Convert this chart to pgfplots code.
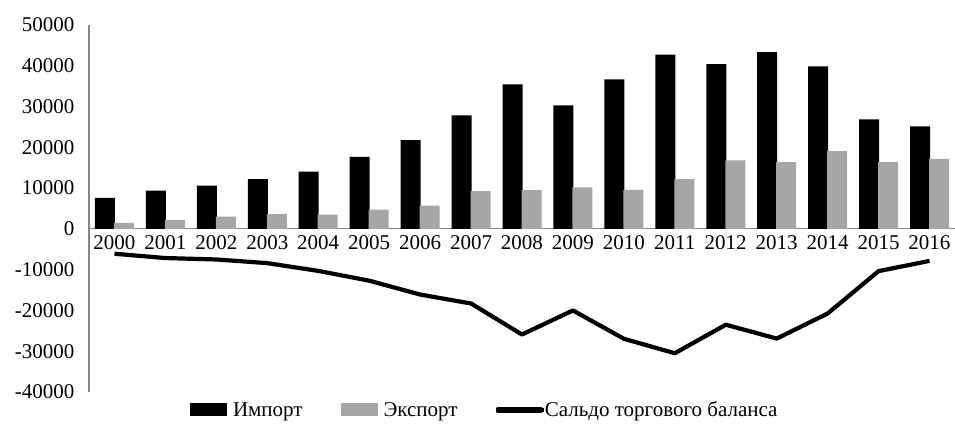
\documentclass[border=0pt]{standalone}
\usepackage{pgfplots}
\pgfplotsset{compat=1.18}
\usepackage{pgfplotstable}
\usepackage{fontspec}
\setmainfont{Liberation Serif}
\usetikzlibrary{calc}
\definecolor{expgray}{HTML}{A6A6A6}
\definecolor{axgray}{HTML}{868686}
\pgfplotstableread{
year imp exp bal
2000 7600 1470 -6100
2001 9400 2130 -7150
2002 10640 3030 -7500
2003 12190 3600 -8400
2004 14070 3520 -10300
2005 17670 4750 -12700
2006 21760 5730 -16100
2007 27820 9250 -18300
2008 35430 9490 -25900
2009 30280 10150 -20000
2010 36660 9570 -26950
2011 42720 12190 -30500
2012 40420 16780 -23500
2013 43370 16370 -26900
2014 39850 19070 -20750
2015 26840 16370 -10350
2016 25120 17180 -7850
}\data
\begin{document}
\begin{tikzpicture}
\begin{axis}[
 scale only axis, width=866bp, height=367bp,
 xmin=1999.5, xmax=2016.5, ymin=-40000, ymax=50000,
 axis x line=middle, axis y line=left,
 axis line style={axgray, line width=1.2bp, -},
 hide obscured x ticks=false, hide obscured y ticks=false,
 xtick={2000,...,2016}, ytick={-40000,-30000,-20000,-10000,0,10000,20000,30000,40000,50000},
 major tick length=0pt,
 /pgf/number format/1000 sep={},
 /pgf/number format/assume math mode=true,
 scaled ticks=false,
 clip=false,
 tick label style={font=\fontsize{21bp}{25bp}\selectfont, text=black},
 xticklabel style={anchor=north, yshift=-3bp},
 yticklabel style={anchor=east, xshift=-11bp},
 legend style={draw=none, fill=none, at={(axis description cs:0.457,-0.049)}, anchor=center,
   font=\fontsize{21bp}{25bp}\selectfont, inner sep=0pt,
   /tikz/every even column/.append style={column sep=36bp}},
 legend columns=3,
 legend cell align=left,
]
\addplot[ybar, bar width=20bp, bar shift=-9.5bp, fill=black, draw=none,
  legend image code/.code={\fill[black] (0bp,-6.5bp) rectangle (37bp,6.5bp); \path (41bp,0bp);}]
  table[x=year, y=imp]{\data};
\addplot[ybar, bar width=20bp, bar shift=9.5bp, fill=expgray, draw=none,
  legend image code/.code={\fill[expgray] (0bp,-6.5bp) rectangle (37bp,6.5bp); \path (41bp,0bp);}]
  table[x=year, y=exp]{\data};
\addplot[black, line width=4.2bp, line join=round, mark=none, sharp plot,
  legend image code/.code={\draw[black, line width=4.2bp, overlay] (3bp,0bp) -- (46bp,0bp); \path (0bp,-1bp) rectangle (43bp,1bp);}]
  table[x=year, y=bal]{\data};
\legend{Импорт, Экспорт, Сальдо торгового баланса}
\end{axis}
\pgfresetboundingbox
\path[use as bounding box] ($(current axis.south west)+(-89bp,-34bp)$) rectangle ($(current axis.north east)+(0bp,25bp)$);
\end{tikzpicture}
\end{document}
